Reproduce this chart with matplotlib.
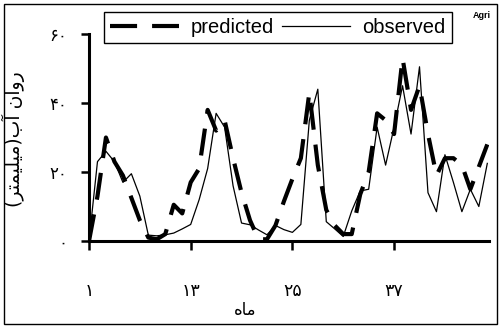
import matplotlib
matplotlib.use("Agg")
import matplotlib.pyplot as plt
from matplotlib.patches import Rectangle

months = list(range(1, 49))
observed = [0, 23, 26, 23, 17, 19.5, 13, 1.7, 1.5, 1.8, 2.3, 3.5,
            4.8, 12, 21, 37, 33, 16, 5.2, 4.7, 3.2, 1.8, 4.5, 3.3,
            2.5, 4.8, 35, 44, 5.6, 3.5, 1.3, 8.7, 14.5, 15, 33, 22,
            33, 45, 31, 50.5, 14, 8.5, 25, 17, 8.5, 15, 10, 22.5]
predicted = [0, 13, 30, 23, 19, 12.5, 6, 1, 0.5, 2, 10.5, 8,
             17, 21, 38, 32, 35, 24, 14, 6, 0.5, 0.5, 4.5, 11.5,
             18, 24, 43, 22, 9, 4.5, 2, 2, 13.5, 20, 37, 35,
             31, 53, 38, 45, 31, 19, 24, 24, 22, 15, 21.5, 28]

xticks = [1, 13, 25, 37]
xtick_labels = ["\u06f1", "\u06f1\u06f3", "\u06f2\u06f5", "\u06f3\u06f7"]
yticks = [0, 20, 40, 60]
ytick_labels = ["\u06f0", "\u06f2\u06f0", "\u06f4\u06f0", "\u06f6\u06f0"]

# persian text, pre-shaped and in visual order (matplotlib has no bidi)
xlabel = "\ufee9\ufe8e\ufee3"  # ماه
ylabel = ("(\ufeae\ufe98\ufee4\ufef4\ufee0\ufef4\ufee3)"
          "\ufe8f\ufe81 \ufee5\ufe8d\ufeed\ufead")  # روان آب(میلیمتر)

fig = plt.figure(figsize=(5, 3.28), dpi=100)
ax = fig.add_axes([89 / 500, 1 - 241 / 328, 400 / 500, 207 / 328])

ax.plot(months, predicted, color="black", lw=3, dashes=(6.5, 3.6),
        label="predicted")
ax.plot(months, observed, color="black", lw=0.9, label="observed")

ax.set_xlim(1, 48.2)
ax.set_ylim(0, 60)
ax.set_xticks(xticks)
ax.set_xticklabels(xtick_labels, fontsize=12.5, family="DejaVu Sans")
ax.set_yticks(yticks)
ax.set_yticklabels(ytick_labels, fontsize=12, family="DejaVu Sans")

for side in ("top", "right"):
    ax.spines[side].set_visible(False)
for side in ("left", "bottom"):
    ax.spines[side].set_linewidth(2.2)
ax.tick_params(axis="y", direction="out", length=6, width=1.8, pad=9.5)
ax.tick_params(axis="x", direction="out", length=6.5, width=1.8, pad=23)

ax.set_xlabel(xlabel, fontsize=12, family="DejaVu Sans")
ax.xaxis.set_label_coords(0.39, -0.29)
ax.set_ylabel(ylabel, fontsize=13.5, family="DejaVu Sans")
ax.yaxis.set_label_coords(-0.16, 0.49)

leg = ax.legend(
    ncol=2,
    loc="upper left",
    bbox_to_anchor=(104 / 500, 1 - 12 / 328),
    bbox_transform=fig.transFigure,
    prop={"family": "Liberation Sans", "size": 14.5},
    handlelength=3.4,
    handletextpad=0.6,
    columnspacing=0.4,
    borderpad=0.3,
    borderaxespad=0,
    fancybox=False,
    framealpha=1,
    edgecolor="black",
)
leg.get_frame().set_linewidth(1)

fig.text(482 / 500, 1 - 15 / 328, "Agri", fontsize=6.5, fontweight="bold",
         family="Liberation Sans", ha="center", va="center")

fig.add_artist(Rectangle((4 / 500, 4 / 328), 493 / 500, 320 / 328,
                         transform=fig.transFigure, fill=False,
                         lw=1, ec="black"))

fig.savefig("out.png", dpi=100)
